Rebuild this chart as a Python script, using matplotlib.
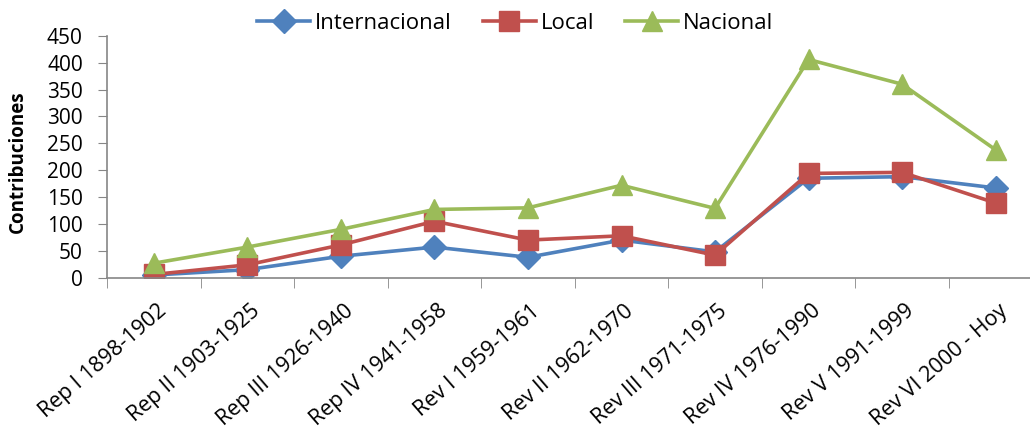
import matplotlib.pyplot as plt
import matplotlib.transforms as mtransforms
import numpy as np

periodos = ['Rep I 1898-1902', 'Rep II 1903-1925', 'Rep III 1926-1940', 'Rep IV 1941-1958',
            'Rev I 1959-1961', 'Rev II 1962-1970', 'Rev III 1971-1975', 'Rev IV 1976-1990',
            'Rev V 1991-1999', 'Rev VI 2000 - Hoy']
internacional = [5, 15, 40, 57, 38, 70, 48, 185, 188, 167]
local = [6, 24, 61, 105, 70, 78, 42, 194, 196, 139]
nacional = [27, 57, 90, 127, 130, 172, 129, 406, 360, 238]

plt.rcParams['font.family'] = ['Open Sans', 'DejaVu Sans']

fig = plt.figure(figsize=(10.3, 4.37), dpi=100)
ax = fig.add_axes([0.104, 0.3645, 0.908, 0.5535])

x = np.arange(len(periodos))
ax.plot(x, internacional, color='#4F81BD', lw=2.6, marker='D', ms=12, label='Internacional')
ax.plot(x, local, color='#C0504D', lw=2.6, marker='s', ms=14, label='Local')
ax.plot(x, nacional, color='#9BBB59', lw=2.6, marker='^', ms=14, label='Nacional')

ax.set_xlim(-0.5, len(periodos) - 0.5)
ax.set_ylim(0, 450)
ax.set_yticks(range(0, 451, 50))

ax.set_xticks(x)
ax.set_xticklabels(periodos, rotation=41, ha='right', va='center', rotation_mode='anchor', fontsize=15.5)
ax.set_xticks(np.arange(-0.5, len(periodos), 1), minor=True)
ax.tick_params(axis='x', which='major', length=0, pad=22)
ax.tick_params(axis='x', which='minor', length=7, color='#868686', direction='out')
ax.tick_params(axis='y', length=6.5, color='#868686', labelsize=15, pad=11)

# shift labels a little to the right, like the Excel original
shift = mtransforms.ScaledTranslation(7 / 72, 0, fig.dpi_scale_trans)
for lab in ax.get_xticklabels():
    lab.set_transform(lab.get_transform() + shift)

for s in ['top', 'right']:
    ax.spines[s].set_visible(False)
for s in ['left', 'bottom']:
    ax.spines[s].set_color('#868686')
    ax.spines[s].set_linewidth(1.2)

ax.set_ylabel('Contribuciones', fontsize=13.5, fontweight='bold')
ax.yaxis.set_label_coords(-0.0845, 0.48)

fig.legend(loc='center', bbox_to_anchor=(0.5, 0.947), ncol=3, frameon=False,
           fontsize=16, handlelength=2.4, columnspacing=1.4, handletextpad=0.2)

fig.savefig('out.png', dpi=100)
